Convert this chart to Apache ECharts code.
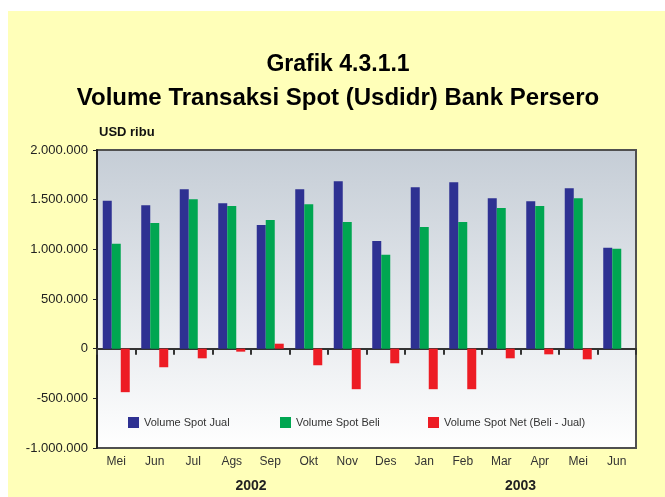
<!DOCTYPE html>
<html>
<head>
<meta charset="utf-8">
<script src="https://cdn.jsdelivr.net/npm/echarts@6/dist/echarts.min.js"></script>
<style>
  html, body { margin: 0; padding: 0; background: #ffffff; }
  #panel { position: absolute; left: 8px; top: 11px; width: 657px; height: 486px; background: #ffffb9; }
  #chart { position: absolute; left: 0; top: 0; width: 665px; height: 497px; }
</style>
</head>
<body>
<div id="panel"></div>
<div id="chart"></div>
<script>
var months = ['Mei', 'Jun', 'Jul', 'Ags', 'Sep', 'Okt', 'Nov', 'Des', 'Jan', 'Feb', 'Mar', 'Apr', 'Mei', 'Jun'];
// years are placed at the middle of their month span (value axis 0..14)
var yearTicks = { 4: '2002', 11: '2003' };

var spotJual = [1490000, 1445000, 1605000, 1465000, 1245000, 1605000, 1685000, 1085000, 1625000, 1675000, 1515000, 1485000, 1615000, 1015000];
var spotBeli = [1055000, 1265000, 1505000, 1435000, 1295000, 1455000, 1275000, 945000, 1225000, 1275000, 1415000, 1435000, 1515000, 1005000];
var spotNet = [-438000, -187000, -97000, -30000, 50000, -167000, -408000, -147000, -408000, -408000, -97000, -57000, -107000, 0];

var chart = echarts.init(document.getElementById('chart'));

function dots(v) {
    var s = Math.abs(v).toString().replace(/\B(?=(\d{3})+(?!\d))/g, '.');
    return (v < 0 ? '-' : '') + s;
}

var font = 'Liberation Sans, Arial, sans-serif';

var option = {
    backgroundColor: 'transparent',
    animation: false,
    title: [
        { text: 'Grafik 4.3.1.1', left: 338, textAlign: 'center', top: 53, padding: 0,
          textStyle: { fontFamily: font, fontSize: 23, fontWeight: 'bold', color: '#000' } },
        { text: 'Volume Transaksi Spot (Usdidr) Bank Persero', left: 338, textAlign: 'center', top: 86, padding: 0,
          textStyle: { fontFamily: font, fontSize: 24, fontWeight: 'bold', color: '#000' } },
        { text: 'USD ribu', left: 99, top: 126, padding: 0,
          textStyle: { fontFamily: font, fontSize: 13, fontWeight: 'bold', color: '#111' } }
    ],
    legend: [
        { data: ['Volume Spot Jual'], left: 128, top: 417 },
        { data: ['Volume Spot Beli'], left: 280, top: 417 },
        { data: ['Volume Spot Net (Beli - Jual)'], left: 428, top: 417 }
    ].map(function (l) {
        l.icon = 'rect';
        l.padding = 0;
        l.itemWidth = 11;
        l.itemHeight = 11;
        l.itemGap = 0;
        l.textStyle = { fontFamily: font, fontSize: 11, color: '#333' };
        return l;
    }),
    grid: {
        left: 97, right: 29, top: 150, bottom: 49,
        show: true,
        borderColor: '#505050',
        borderWidth: 2,
        backgroundColor: {
            type: 'linear', x: 0, y: 0, x2: 0, y2: 1,
            colorStops: [
                { offset: 0, color: '#c5cdd6' },
                { offset: 1, color: '#ffffff' }
            ]
        }
    },
    xAxis: [
        {
            type: 'category',
            data: months,
            axisLine: { onZero: true, lineStyle: { color: '#333', width: 2 } },
            axisTick: { show: true, length: 6, lineStyle: { color: '#333', width: 2 } },
            axisLabel: { show: false }
        },
        {
            type: 'category',
            data: months,
            position: 'bottom',
            axisLine: { show: false, onZero: false },
            axisTick: { show: false },
            axisLabel: { margin: 8, fontFamily: font, fontSize: 12, color: '#333' }
        },
        {
            type: 'value',
            min: 0, max: 14, interval: 1,
            position: 'bottom',
            offset: 23,
            axisLine: { show: false, onZero: false },
            axisTick: { show: false },
            splitLine: { show: false },
            axisLabel: {
                margin: 8,
                fontFamily: font, fontSize: 14, fontWeight: 'bold', color: '#222',
                formatter: function (v) { return yearTicks[v] || ''; }
            }
        }
    ],
    yAxis: {
        type: 'value',
        min: -1000000,
        max: 2000000,
        interval: 500000,
        splitLine: { show: false },
        axisLine: { show: true, lineStyle: { color: '#222', width: 2 } },
        axisTick: { show: true, length: 4, lineStyle: { color: '#222' } },
        axisLabel: {
            margin: 9,
            fontFamily: font, fontSize: 13, color: '#222',
            formatter: dots
        }
    },
    series: [
        { name: 'Volume Spot Jual', type: 'bar', data: spotJual, barWidth: 9, barGap: '0%',
          itemStyle: { color: '#2e3192' } },
        { name: 'Volume Spot Beli', type: 'bar', data: spotBeli, barWidth: 9, barGap: '0%',
          itemStyle: { color: '#00a651' } },
        { name: 'Volume Spot Net (Beli - Jual)', type: 'bar', data: spotNet, barWidth: 9, barGap: '0%',
          itemStyle: { color: '#ed1c24' } }
    ]
};

chart.setOption(option);
</script>
</body>
</html>
